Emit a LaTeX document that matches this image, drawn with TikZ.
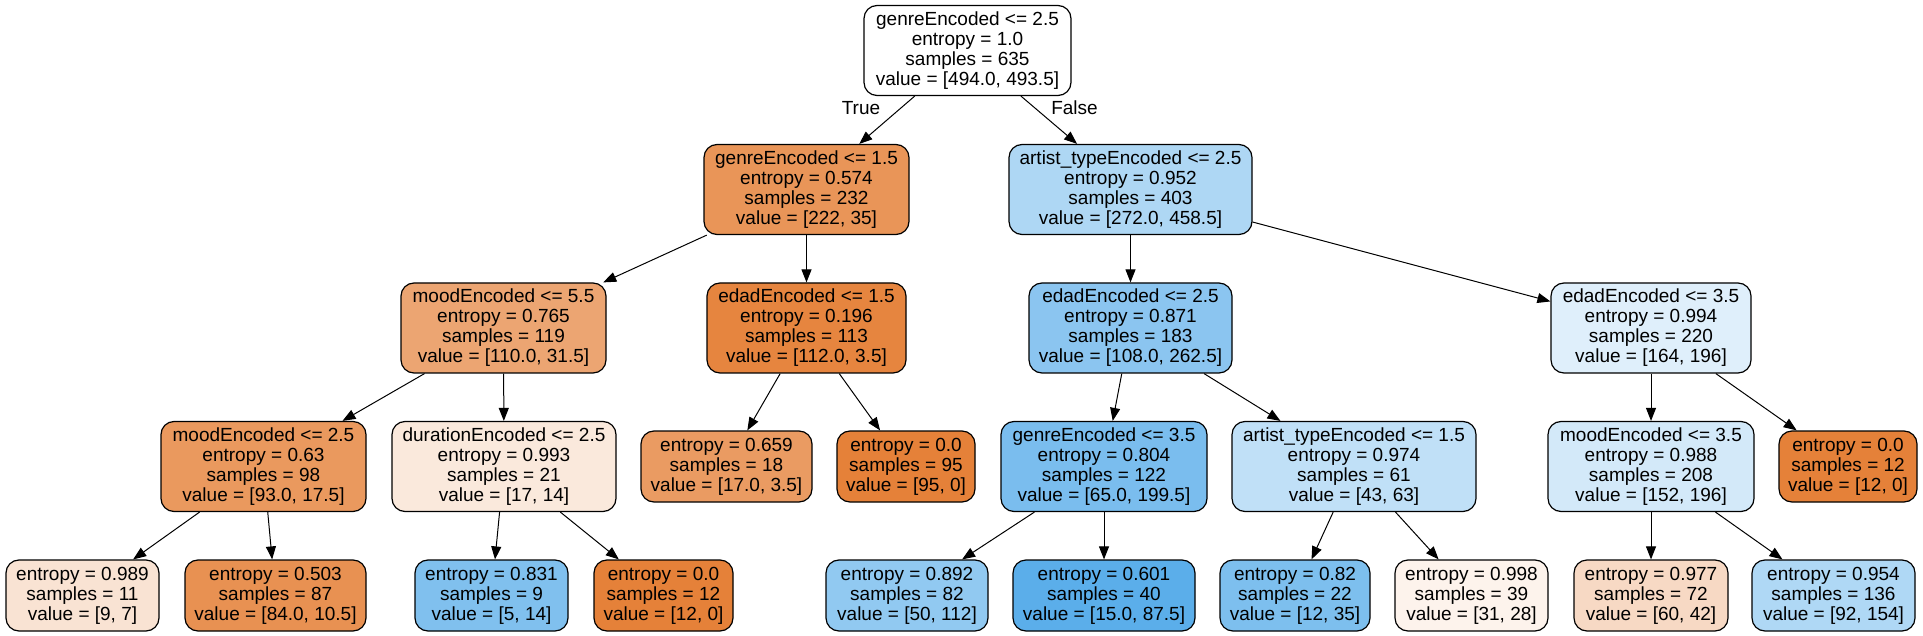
\documentclass[tikz,border=0pt]{standalone}
\usepackage{fontspec}
\setmainfont{Liberation Sans}
\usetikzlibrary{arrows.meta}

% Farben der Knoten
\definecolor{orfull}{RGB}{229,129,57}
\definecolor{blfull}{RGB}{57,157,229}

\begin{document}
\begin{tikzpicture}[
    x=1pt,
    y=-1pt,
    every node/.style={font=\fontsize{19}{20}\selectfont},
    testbox/.style={
        rectangle,
        draw,
        line width=1.2pt,
        rounded corners=13pt,
        minimum height=90pt,
        inner sep=0pt,
        align=center
    },
    leafbox/.style={
        testbox,
        minimum height=71pt
    },
    branch/.style={
        -{Triangle[length=13pt,width=10pt]},
        line width=1pt
    }
]

% Rahmen
\path[fill=white] (0,0) rectangle (1923,636);
\useasboundingbox (0,0) rectangle (1923,636);

% Ebene 0
\node[testbox, fill=white, minimum width=207pt] (root) at (967.5,50.5) {genreEncoded <= 2.5\\entropy = 1.0\\samples = 635\\value = [494.0, 493.5]};

% Ebene 1
\node[testbox, fill={rgb,255:red,233;green,149;blue,88}, minimum width=205pt] (genreA) at (806.5,189.5) {genreEncoded <= 1.5\\entropy = 0.574\\samples = 232\\value = [222, 35]};
\node[testbox, fill={rgb,255:red,174;green,215;blue,244}, minimum width=243pt] (artistA) at (1130.5,189.5) {artist\_typeEncoded <= 2.5\\entropy = 0.952\\samples = 403\\value = [272.0, 458.5]};

% Ebene 2
\node[testbox, fill={rgb,255:red,236;green,165;blue,114}, minimum width=205pt] (moodA) at (503.5,328) {moodEncoded <= 5.5\\entropy = 0.765\\samples = 119\\value = [110.0, 31.5]};
\node[testbox, fill={rgb,255:red,230;green,133;blue,63}, minimum width=199pt] (edadA) at (806.5,328) {edadEncoded <= 1.5\\entropy = 0.196\\samples = 113\\value = [112.0, 3.5]};
\node[testbox, fill={rgb,255:red,139;green,197;blue,240}, minimum width=203pt] (edadB) at (1130.5,328) {edadEncoded <= 2.5\\entropy = 0.871\\samples = 183\\value = [108.0, 262.5]};
\node[testbox, fill={rgb,255:red,223;green,239;blue,251}, minimum width=200pt] (edadC) at (1651,328) {edadEncoded <= 3.5\\entropy = 0.994\\samples = 220\\value = [164, 196]};

% Ebene 3
\node[testbox, fill={rgb,255:red,234;green,153;blue,94}, minimum width=205pt] (moodB) at (263.5,466.5) {moodEncoded <= 2.5\\entropy = 0.63\\samples = 98\\value = [93.0, 17.5]};
\node[testbox, fill={rgb,255:red,250;green,233;blue,220}, minimum width=224pt] (durA) at (504,466.5) {durationEncoded <= 2.5\\entropy = 0.993\\samples = 21\\value = [17, 14]};
\node[leafbox, fill={rgb,255:red,234;green,155;blue,98}, minimum width=171pt] (leafA) at (726.5,466.5) {entropy = 0.659\\samples = 18\\value = [17.0, 3.5]};
\node[leafbox, fill=orfull, minimum width=138pt] (leafB) at (906,466.5) {entropy = 0.0\\samples = 95\\value = [95, 0]};
\node[testbox, fill={rgb,255:red,122;green,189;blue,238}, minimum width=206pt] (genreB) at (1104,466.5) {genreEncoded <= 3.5\\entropy = 0.804\\samples = 122\\value = [65.0, 199.5]};
\node[testbox, fill={rgb,255:red,192;green,224;blue,247}, minimum width=244pt] (artistB) at (1354,466.5) {artist\_typeEncoded <= 1.5\\entropy = 0.974\\samples = 61\\value = [43, 63]};
\node[testbox, fill={rgb,255:red,211;green,233;blue,249}, minimum width=206pt] (moodC) at (1651,466.5) {moodEncoded <= 3.5\\entropy = 0.988\\samples = 208\\value = [152, 196]};
\node[leafbox, fill=orfull, minimum width=138pt] (leafC) at (1848,466.5) {entropy = 0.0\\samples = 12\\value = [12, 0]};

% Ebene 4
\node[leafbox, fill={rgb,255:red,249;green,227;blue,211}, minimum width=153pt] (leafD) at (82.5,595.5) {entropy = 0.989\\samples = 11\\value = [9, 7]};
\node[leafbox, fill={rgb,255:red,232;green,145;blue,82}, minimum width=181pt] (leafE) at (275.5,595.5) {entropy = 0.503\\samples = 87\\value = [84.0, 10.5]};
\node[leafbox, fill={rgb,255:red,128;green,192;blue,238}, minimum width=153pt] (leafF) at (491.5,595.5) {entropy = 0.831\\samples = 9\\value = [5, 14]};
\node[leafbox, fill=orfull, minimum width=139pt] (leafG) at (663.5,595.5) {entropy = 0.0\\samples = 12\\value = [12, 0]};
\node[leafbox, fill={rgb,255:red,145;green,201;blue,241}, minimum width=162pt] (leafH) at (907,595.5) {entropy = 0.892\\samples = 82\\value = [50, 112]};
\node[leafbox, fill={rgb,255:red,91;green,174;blue,234}, minimum width=182pt] (leafI) at (1104,595.5) {entropy = 0.601\\samples = 40\\value = [15.0, 87.5]};
\node[leafbox, fill={rgb,255:red,125;green,191;blue,238}, minimum width=150pt] (leafJ) at (1295,595.5) {entropy = 0.82\\samples = 22\\value = [12, 35]};
\node[leafbox, fill={rgb,255:red,253;green,243;blue,236}, minimum width=153pt] (leafK) at (1471.5,595.5) {entropy = 0.998\\samples = 39\\value = [31, 28]};
\node[leafbox, fill={rgb,255:red,247;green,217;blue,196}, minimum width=154pt] (leafL) at (1651,595.5) {entropy = 0.977\\samples = 72\\value = [60, 42]};
\node[leafbox, fill={rgb,255:red,175;green,216;blue,245}, minimum width=163pt] (leafM) at (1833.5,595.5) {entropy = 0.954\\samples = 136\\value = [92, 154]};

% Kanten
\draw[branch] (root) -- (genreA);
\draw[branch] (root) -- (artistA);
\draw[branch] (genreA) -- (moodA);
\draw[branch] (genreA) -- (edadA);
\draw[branch] (artistA) -- (edadB);
\draw[branch] (artistA) -- (edadC);
\draw[branch] (moodA) -- (moodB);
\draw[branch] (moodA) -- (durA);
\draw[branch] (edadA) -- (leafA);
\draw[branch] (edadA) -- (leafB);
\draw[branch] (edadB) -- (genreB);
\draw[branch] (edadB) -- (artistB);
\draw[branch] (edadC) -- (moodC);
\draw[branch] (edadC) -- (leafC);
\draw[branch] (moodB) -- (leafD);
\draw[branch] (moodB) -- (leafE);
\draw[branch] (durA) -- (leafF);
\draw[branch] (durA) -- (leafG);
\draw[branch] (genreB) -- (leafH);
\draw[branch] (genreB) -- (leafI);
\draw[branch] (artistB) -- (leafJ);
\draw[branch] (artistB) -- (leafK);
\draw[branch] (moodC) -- (leafL);
\draw[branch] (moodC) -- (leafM);

% Beschriftung der ersten Kanten
\node (truelbl) at (861,108) {True};
\node (falselbl) at (1074.5,108) {False};

\end{tikzpicture}
\end{document}
